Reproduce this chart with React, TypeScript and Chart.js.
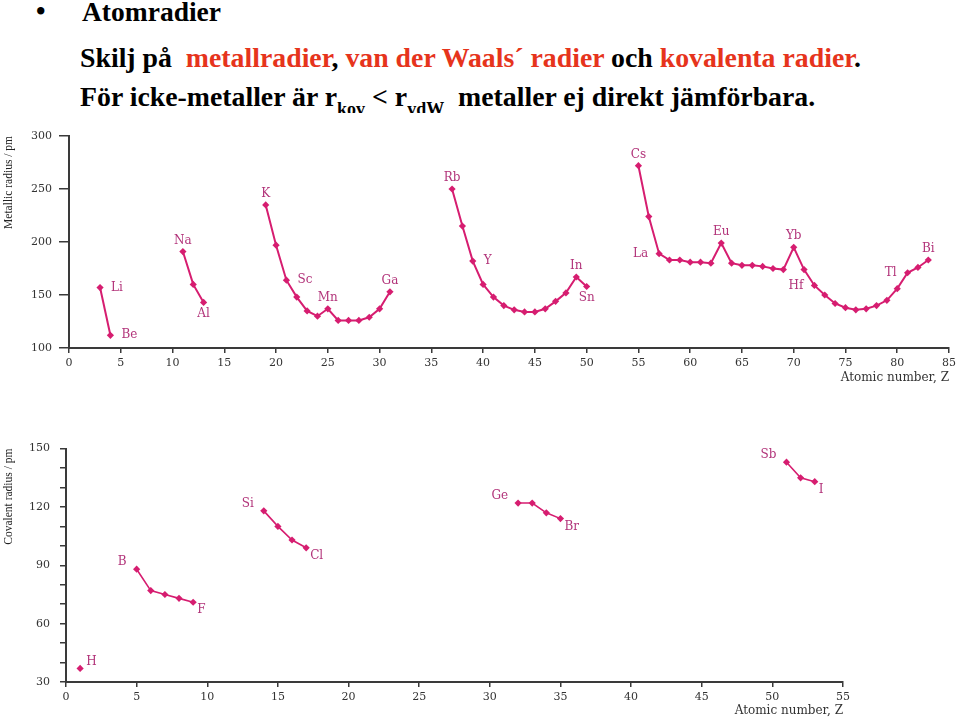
import React, { useEffect, useRef } from "react";
import { Chart, registerables } from "chart.js";

Chart.register(...registerables);

// ---------- DATA ----------
// Metallic radii (pm), consecutive atomic numbers starting at the given Z
const metalStartZ = [3, 11, 19, 37, 55];
const metalLiBe = [157, 112];
const metalNaAl = [191, 160, 143];
const metalKGa = [235, 197, 164, 148, 135, 130, 137, 126, 126, 126, 129, 137, 153];
const metalRbSn = [250, 215, 182, 160, 148, 140, 136, 134, 134, 137, 144, 152, 167, 158];
const metalCsBi = [272, 224, 189, 183, 183, 181, 181, 180, 199, 180, 178, 178, 177, 175, 174, 195, 174, 159, 150, 142, 138, 136, 137, 140, 145, 156, 171, 176, 183];

// Covalent radii (pm)
const covStartZ = [1, 5, 14, 32, 51];
const covH = [37];
const covBF = [88, 77, 75, 73, 71];
const covSiCl = [118, 110, 103, 99];
const covGeBr = [122, 122, 117, 114];
const covSbI = [143, 135, 133];

// Element labels: [Z, symbol, placement]
const metalLabels: [number, string, string][] = [
  [3, "Li", "right"], [4, "Be", "right"], [11, "Na", "above"], [13, "Al", "below"],
  [19, "K", "above"], [21, "Sc", "right"], [25, "Mn", "above"], [31, "Ga", "above"],
  [37, "Rb", "above"], [39, "Y", "right"], [49, "In", "above"], [50, "Sn", "below"],
  [55, "Cs", "above"], [57, "La", "left"], [63, "Eu", "above"], [70, "Yb", "above"],
  [72, "Hf", "left"], [81, "Tl", "left"], [83, "Bi", "above"],
];
const covLabels: [number, string, string][] = [
  [1, "H", "aboveRight"], [5, "B", "aboveLeft"], [9, "F", "belowRight"],
  [14, "Si", "aboveLeft"], [17, "Cl", "belowRight"], [32, "Ge", "aboveLeft"],
  [35, "Br", "belowRight"], [51, "Sb", "aboveLeft"], [53, "I", "belowRight"],
];

const metalTitle = "Metallic radius / pm";
const covTitle = "Covalent radius / pm";
const xTitle = "Atomic number, Z";

// ---------- STYLE ----------
const MAG = "#d61d70";
const LABEL_COLOR = "#b2347a";
const AXIS = "#3a3a3a";
const TICK_FONT = { family: "'DejaVu Serif', serif", size: 11 };

const PLACE: Record<string, { dx: number; dy: number; align: CanvasTextAlign }> = {
  right: { dx: 11, dy: 0, align: "left" },
  left: { dx: -11, dy: 0, align: "right" },
  above: { dx: 0, dy: -11, align: "center" },
  below: { dx: 0, dy: 11, align: "center" },
  aboveLeft: { dx: -10, dy: -7, align: "right" },
  aboveRight: { dx: 6, dy: -7, align: "left" },
  belowRight: { dx: 4, dy: 8, align: "left" },
};

const labelPlugin = {
  id: "elementLabels",
  afterDatasetsDraw(chart: any, _args: any, opts: any) {
    const { ctx } = chart;
    const xs = chart.scales.x;
    const ys = chart.scales.y;
    ctx.save();
    ctx.font = "12px 'DejaVu Serif', serif";
    ctx.fillStyle = LABEL_COLOR;
    ctx.textBaseline = "middle";
    for (const [z, text, pos] of opts.labels as [number, string, string][]) {
      const v = opts.lookup[z];
      if (v == null) continue;
      const p = PLACE[pos];
      ctx.textAlign = p.align;
      ctx.fillText(text, xs.getPixelForValue(z) + p.dx, ys.getPixelForValue(v) + p.dy);
    }
    ctx.restore();
  },
};

function buildDatasets(starts: number[], groups: number[][], lw: number) {
  return groups.map((g, gi) => ({
    data: g.map((v, i) => ({ x: starts[gi] + i, y: v })),
    borderColor: MAG,
    backgroundColor: MAG,
    borderWidth: lw,
    pointStyle: "rectRot",
    pointRadius: 3.6,
    pointBorderWidth: 0,
    pointBackgroundColor: MAG,
    tension: 0,
  }));
}

function lookupOf(starts: number[], groups: number[][]) {
  const m: Record<number, number> = {};
  groups.forEach((g, gi) => g.forEach((v, i) => (m[starts[gi] + i] = v)));
  return m;
}

interface Cfg {
  starts: number[];
  groups: number[][];
  labels: [number, string, string][];
  xMax: number;
  yMin: number;
  yMax: number;
  yStep: number;
  yLabelEvery: number;
  yTitle: string;
  padTop: number;
  padRight: number;
  yWidth: number;
  xHeight: number;
  yTick: number;
  yPad: number;
  xTitlePad: number;
  lw: number;
}

function makeConfig(c: Cfg): any {
  return {
    type: "line",
    data: { datasets: buildDatasets(c.starts, c.groups, c.lw) },
    plugins: [labelPlugin],
    options: {
      responsive: false,
      animation: false,
      events: [],
      layout: { padding: { top: c.padTop, right: c.padRight, left: 0, bottom: 0 } },
      plugins: {
        legend: { display: false },
        tooltip: { enabled: false },
        elementLabels: { labels: c.labels, lookup: lookupOf(c.starts, c.groups) },
      },
      scales: {
        x: {
          type: "linear",
          min: 0,
          max: c.xMax,
          ticks: { stepSize: 5, font: TICK_FONT, color: "#333", padding: 4, maxRotation: 0, autoSkip: false },
          grid: { drawOnChartArea: false, drawTicks: true, tickLength: 5, color: AXIS, lineWidth: 1.5 },
          border: { display: true, color: AXIS, width: 2 },
          title: {
            display: true,
            text: xTitle,
            align: "end",
            color: "#333",
            font: { family: "'DejaVu Serif', serif", size: 12 },
            padding: { top: c.xTitlePad, bottom: c.xTitlePad },
          },
          afterFit: (s: any) => {
            s.height = c.xHeight;
          },
        },
        y: {
          type: "linear",
          min: c.yMin,
          max: c.yMax,
          ticks: {
            stepSize: c.yStep,
            font: TICK_FONT,
            color: "#333",
            padding: c.yPad,
            callback: (v: number) => ((v - c.yMin) % c.yLabelEvery === 0 ? String(v) : ""),
          },
          grid: { drawOnChartArea: false, drawTicks: true, tickLength: c.yTick, color: AXIS, lineWidth: 1.5 },
          border: { display: true, color: AXIS, width: 2 },
          title: {
            display: true,
            text: c.yTitle,
            align: "end",
            color: "#222",
            font: { family: "'Liberation Serif', serif", size: 11.5 },
            padding: { top: 2, bottom: 0 },
          },
          afterFit: (s: any) => {
            s.width = c.yWidth;
          },
        },
      },
    },
  };
}

function ChartCanvas({ cfg, top, height }: { cfg: Cfg; top: number; height: number }) {
  const ref = useRef<HTMLCanvasElement>(null);
  useEffect(() => {
    if (!ref.current) return;
    const ch = new Chart(ref.current, makeConfig(cfg));
    return () => ch.destroy();
  }, []);
  return (
    <canvas
      ref={ref}
      width={960}
      height={height}
      style={{ position: "absolute", left: 0, top, width: 960, height, display: "block" }}
    />
  );
}

const topCfg: Cfg = {
  starts: metalStartZ,
  groups: [metalLiBe, metalNaAl, metalKGa, metalRbSn, metalCsBi],
  labels: metalLabels,
  xMax: 85,
  yMin: 100,
  yMax: 300,
  yStep: 50,
  yLabelEvery: 50,
  yTitle: metalTitle,
  padTop: 14,
  padRight: 10,
  yWidth: 69,
  xHeight: 42,
  yTick: 10,
  yPad: 7,
  xTitlePad: 5,
  lw: 2,
};

const bottomCfg: Cfg = {
  starts: covStartZ,
  groups: [covH, covBF, covSiCl, covGeBr, covSbI],
  labels: covLabels,
  xMax: 55,
  yMin: 30,
  yMax: 150,
  yStep: 10,
  yLabelEvery: 30,
  yTitle: covTitle,
  padTop: 15,
  padRight: 117,
  yWidth: 66,
  xHeight: 36,
  yTick: 6,
  yPad: 10,
  xTitlePad: 0,
  lw: 1.6,
};

const RED = "#e6341c";

export default function App() {
  const serif = "'Liberation Serif', 'Times New Roman', serif";
  return (
    <div
      style={{
        position: "absolute",
        left: 0,
        top: 0,
        width: 960,
        height: 718,
        background: "#fff",
        overflow: "hidden",
        fontFamily: serif,
        fontWeight: "bold",
        color: "#000",
      }}
    >
      <div style={{ position: "absolute", left: 36, top: -2, fontSize: 27, lineHeight: "27px" }}>•</div>
      <div style={{ position: "absolute", left: 82, top: -2, fontSize: 27.5, lineHeight: "27.5px" }}>Atomradier</div>
      <div
        style={{ position: "absolute", left: 80, top: 44.4, fontSize: 27.8, lineHeight: "27.8px", whiteSpace: "pre" }}
      >
        Skilj på{"  "}
        <span style={{ color: RED }}>metallradier</span>, <span style={{ color: RED }}>van der Waals´ radier</span> och{" "}
        <span style={{ color: RED }}>kovalenta radier</span>.
      </div>
      <div style={{ position: "absolute", left: 80, top: 80, height: 33, width: 880, overflow: "hidden" }}>
        <div style={{ position: "absolute", left: 0, top: 2.7, fontSize: 27.8, lineHeight: "27.8px", whiteSpace: "pre" }}>
          För icke-metaller är r<sub style={{ fontSize: 18, verticalAlign: "-9px" }}>kov</sub> {"<"} r
          <sub style={{ fontSize: 18, verticalAlign: "-9px" }}>vdW</sub>
          {"  "}metaller ej direkt jämförbara.
        </div>
      </div>
      <ChartCanvas cfg={topCfg} top={122} height={268} />
      <ChartCanvas cfg={bottomCfg} top={432} height={286} />
    </div>
  );
}
